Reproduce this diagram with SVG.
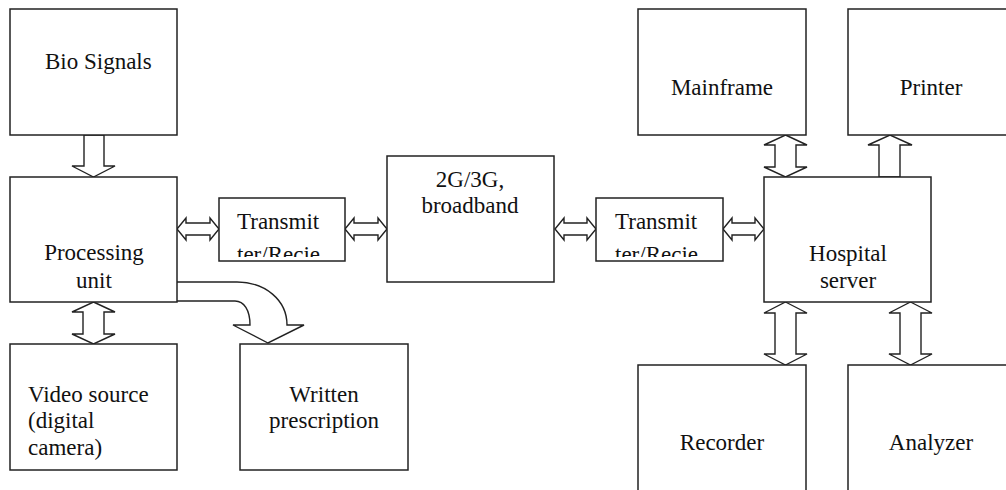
<svg xmlns="http://www.w3.org/2000/svg" width="1006" height="490" viewBox="0 0 1006 490">
<style>
.box{fill:#fff;stroke:#222;stroke-width:1.5}
.arr{fill:#fff;stroke:#222;stroke-width:1.4;stroke-linejoin:miter}
text{font-family:'Liberation Serif','Tinos','DejaVu Serif',serif;font-size:23px;fill:#111}
.m{text-anchor:middle}
</style>
<defs>
<clipPath id="clipT1"><rect x="219" y="198" width="126" height="59"/></clipPath>
<clipPath id="clipT2"><rect x="596" y="198" width="127" height="59"/></clipPath>
</defs>
<rect width="1006" height="490" fill="#fff"/>
<g id="connectors">
<polygon class="arr" points="84,135 84,166 72,166 93.5,177 115,166 104,166 104,135"/>
<polygon class="arr" points="93.5,302 115,312 104,312 104,334 115,334 93.5,344 72,334 83,334 83,312 72,312"/>
<polygon class="arr" points="177,229 186,218 186,223 210,223 210,218 219,229 210,240 210,235 186,235 186,240"/>
<polygon class="arr" points="345,229 354,218 354,223 378,223 378,218 387,229 378,240 378,235 354,235 354,240"/>
<polygon class="arr" points="555,229 564,218 564,223 587,223 587,218 596,229 587,240 587,235 564,235 564,240"/>
<polygon class="arr" points="723,229 732,218 732,223 755,223 755,218 764,229 755,240 755,235 732,235 732,240"/>
<polygon class="arr" points="785.5,135 807,145 796,145 796,167 807,167 785.5,177 764,167 775,167 775,145 764,145"/>
<polygon class="arr" points="879,177 879,145 868,145 890,135 912,145 900,145 900,177"/>
<polygon class="arr" points="785.5,302 807,313 796,313 796,354 807,354 785.5,365 764,354 775,354 775,313 764,313"/>
<polygon class="arr" points="910.5,302 932,313 921,313 921,354 932,354 910.5,365 889,354 900,354 900,313 889,313"/>
<path class="arr" d="M177,282 H237 C265,282 287,300 287,325 H304 L268,343 L233,325 H250 C250,310 244,301 235,301 H177"/>
</g>
<g id="bio-signals">
<rect class="box" x="10" y="9" width="167" height="126"/>
<text x="45" y="69">Bio Signals</text>
</g>
<g id="processing-unit">
<rect class="box" x="10" y="177" width="167" height="125"/>
<text class="m" x="94" y="260">Processing</text>
<text class="m" x="94" y="288">unit</text>
</g>
<g id="video-source">
<rect class="box" x="10" y="344" width="167" height="126"/>
<text x="28" y="402">Video source</text>
<text x="28" y="428">(digital</text>
<text x="28" y="455">camera)</text>
</g>
<g id="written-prescription">
<rect class="box" x="240" y="344" width="168" height="126"/>
<text class="m" x="324" y="402">Written</text>
<text class="m" x="324" y="428">prescription</text>
</g>
<g id="transmitter-1">
<rect class="box" x="219" y="198" width="126" height="63"/>
<g clip-path="url(#clipT1)">
<text x="237" y="229">Transmit</text>
<text x="237" y="262">ter/Recie</text>
</g>
</g>
<g id="network">
<rect class="box" x="387" y="156" width="167" height="126"/>
<text class="m" x="470" y="187">2G/3G,</text>
<text class="m" x="470" y="213">broadband</text>
</g>
<g id="transmitter-2">
<rect class="box" x="596" y="198" width="127" height="63"/>
<g clip-path="url(#clipT2)">
<text x="615" y="229">Transmit</text>
<text x="615" y="262">ter/Recie</text>
</g>
</g>
<g id="mainframe">
<rect class="box" x="638" y="9" width="168" height="126"/>
<text class="m" x="722" y="95">Mainframe</text>
</g>
<g id="printer">
<rect class="box" x="848" y="9" width="170" height="126"/>
<text class="m" x="931" y="95">Printer</text>
</g>
<g id="hospital-server">
<rect class="box" x="764" y="177" width="167" height="125"/>
<text class="m" x="848" y="261">Hospital</text>
<text class="m" x="848" y="288">server</text>
</g>
<g id="recorder">
<rect class="box" x="638" y="365" width="168" height="135"/>
<text class="m" x="722" y="450">Recorder</text>
</g>
<g id="analyzer">
<rect class="box" x="848" y="365" width="170" height="135"/>
<text class="m" x="931" y="450">Analyzer</text>
</g>
</svg>
